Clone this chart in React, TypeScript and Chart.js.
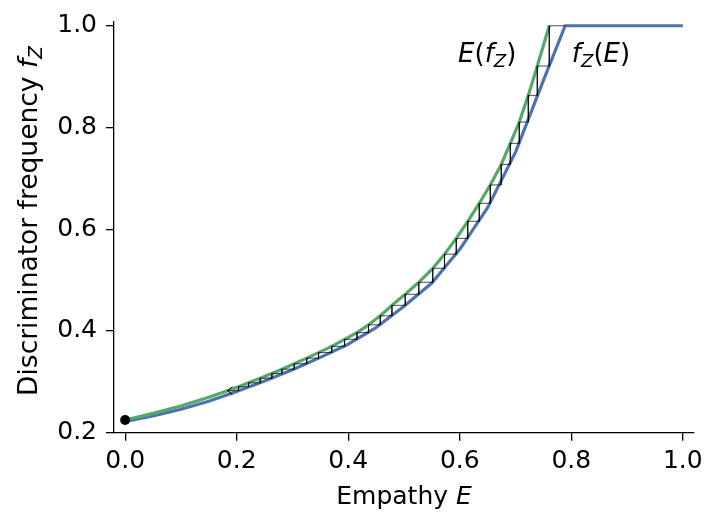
import React, { useEffect, useRef } from 'react';
import { Chart, registerables } from 'chart.js';

Chart.register(...registerables);

// ---- data ----
const xTicks = [0, 0.2, 0.4, 0.6, 0.8, 1.0];
const yTicks = [0.2, 0.4, 0.6, 0.8, 1.0];

// f_Z(E) (blue)
const blueE = [0, 0.05, 0.1, 0.15, 0.2, 0.25, 0.3, 0.35, 0.4, 0.45, 0.5, 0.55, 0.6, 0.65, 0.7, 0.75, 0.789, 1.0];
const blueF = [0.222, 0.233, 0.246, 0.262, 0.281, 0.3015, 0.3237, 0.3481, 0.3739, 0.4067, 0.4485, 0.4942, 0.5605, 0.6425, 0.7516, 0.8927, 1.0, 1.0];

// E(f_Z) (green)
const greenE = [0, 0.05, 0.1, 0.15, 0.1835, 0.2033, 0.2212, 0.2422, 0.2631, 0.2811, 0.3031, 0.3256, 0.3468, 0.3704, 0.3934, 0.4156, 0.4364, 0.4574, 0.4784, 0.5022, 0.5265, 0.5516, 0.5727, 0.5937, 0.6143, 0.635, 0.6547, 0.6744, 0.6906, 0.7067, 0.7229, 0.739, 0.7605];
const greenF = [0.225, 0.238, 0.2525, 0.2698, 0.2826, 0.2905, 0.2981, 0.3071, 0.3165, 0.3249, 0.3354, 0.3466, 0.3575, 0.3698, 0.3836, 0.3967, 0.4121, 0.4298, 0.4504, 0.4721, 0.4957, 0.5232, 0.551, 0.582, 0.6156, 0.651, 0.687, 0.7275, 0.7688, 0.8107, 0.8632, 0.9208, 1.0];

// cobweb staircase (from the top down)
const stairStartE = 0.789;
const stairE = [0.7605, 0.739, 0.7229, 0.7067, 0.6906, 0.6744, 0.6547, 0.635, 0.6143, 0.5937, 0.5727, 0.5516, 0.5265, 0.5022, 0.4784, 0.4574, 0.4364, 0.4156, 0.3934, 0.3704, 0.3468, 0.3256, 0.3031, 0.2811, 0.2631, 0.2422, 0.2212, 0.2033, 0.1835];
const stairF = [1.0, 0.9208, 0.8632, 0.8107, 0.7688, 0.7275, 0.687, 0.651, 0.6156, 0.582, 0.551, 0.5232, 0.4957, 0.4721, 0.4504, 0.4298, 0.4121, 0.3967, 0.3836, 0.3698, 0.3575, 0.3466, 0.3354, 0.3249, 0.3165, 0.3071, 0.2981, 0.2905, 0.2826];

// stable fixed point
const dotE = [0];
const dotF = [0.225];

// texts
type Seg = { t: string; it?: boolean; sub?: boolean };
const xTitle: Seg[] = [{ t: 'Empathy ' }, { t: 'E', it: true }];
const yTitle: Seg[] = [{ t: 'Discriminator frequency ' }, { t: 'f', it: true }, { t: 'Z', it: true, sub: true }];
const labelEf: Seg[] = [{ t: 'E', it: true }, { t: '(' }, { t: 'f', it: true }, { t: 'Z', it: true, sub: true }, { t: ')' }];
const labelFE: Seg[] = [{ t: 'f', it: true }, { t: 'Z', it: true, sub: true }, { t: '(' }, { t: 'E', it: true }, { t: ')' }];
const labelEfAt = { E: 0.597, f: 0.929 };
const labelFEAt = { E: 0.801, f: 0.929 };

const FAMILY = '"DejaVu Sans"';
const TICK_SIZE = 25;
const XTITLE_SIZE = 25;
const YTITLE_SIZE = 26.5;
const ANN_SIZE = 26;
const BLUE = '#4C72B0';
const GREEN = '#55A868';

function drawRich(ctx: CanvasRenderingContext2D, segs: Seg[], x: number, y: number, size: number, align: 'left' | 'center') {
  const fontOf = (s: Seg) => `${s.it ? 'italic ' : ''}${s.sub ? size * 0.7 : size}px ${FAMILY}`;
  let total = 0;
  const widths = segs.map((s) => {
    ctx.font = fontOf(s);
    const w = ctx.measureText(s.t).width;
    total += w;
    return w;
  });
  let cx = align === 'center' ? x - total / 2 : x;
  ctx.textBaseline = 'alphabetic';
  ctx.textAlign = 'left';
  segs.forEach((s, i) => {
    ctx.font = fontOf(s);
    ctx.fillText(s.t, cx, y + (s.sub ? size * 0.2 : 0));
    cx += widths[i];
  });
}

const decorPlugin = {
  id: 'decor',
  afterDraw(chart: any) {
    const { ctx, chartArea, scales } = chart;
    const xs = scales.x;
    const ys = scales.y;
    ctx.save();
    ctx.fillStyle = '#000';
    // x title
    drawRich(ctx, xTitle, (chartArea.left + chartArea.right) / 2, 504, XTITLE_SIZE, 'center');
    // y title
    ctx.save();
    ctx.translate(37, 221);
    ctx.rotate(-Math.PI / 2);
    drawRich(ctx, yTitle, 0, 0, YTITLE_SIZE, 'center');
    ctx.restore();
    // annotations
    drawRich(ctx, labelEf, xs.getPixelForValue(labelEfAt.E), ys.getPixelForValue(labelEfAt.f), ANN_SIZE, 'left');
    drawRich(ctx, labelFE, xs.getPixelForValue(labelFEAt.E), ys.getPixelForValue(labelFEAt.f), ANN_SIZE, 'left');
    // arrow head at end of staircase
    const n = stairE.length - 1;
    const px = xs.getPixelForValue(stairE[n]);
    const py = ys.getPixelForValue(stairF[n]);
    ctx.strokeStyle = '#000';
    ctx.lineWidth = 1;
    ctx.beginPath();
    ctx.moveTo(px + 5, py - 4);
    ctx.lineTo(px, py);
    ctx.lineTo(px + 5, py + 4);
    ctx.stroke();
    ctx.restore();
  },
};

export default function App() {
  const ref = useRef<HTMLCanvasElement>(null);

  useEffect(() => {
    if (!ref.current) return;

    const stairPts: { x: number; y: number }[] = [{ x: stairStartE, y: stairF[0] }];
    for (let i = 0; i < stairE.length; i++) {
      if (i > 0) stairPts.push({ x: stairE[i - 1], y: stairF[i] });
      stairPts.push({ x: stairE[i], y: stairF[i] });
    }

    const tickFont = { family: FAMILY, size: TICK_SIZE };

    const chart = new Chart(ref.current, {
      type: 'line',
      data: {
        datasets: [
          {
            label: 'fixed point',
            data: dotE.map((e, i) => ({ x: e, y: dotF[i] })),
            showLine: false,
            pointRadius: 5,
            pointBackgroundColor: '#000',
            pointBorderColor: '#000',
            pointBorderWidth: 0,
          },
          {
            label: 'staircase',
            data: stairPts,
            borderColor: 'rgba(0,0,0,0.78)',
            borderWidth: 0.9,
            pointRadius: 0,
            tension: 0,
          },
          {
            label: 'E(f_Z)',
            data: greenE.map((e, i) => ({ x: e, y: greenF[i] })),
            borderColor: GREEN,
            borderWidth: 3.2,
            pointRadius: 0,
            tension: 0,
            borderJoinStyle: 'round',
          },
          {
            label: 'f_Z(E)',
            data: blueE.map((e, i) => ({ x: e, y: blueF[i] })),
            borderColor: BLUE,
            borderWidth: 3.2,
            pointRadius: 0,
            tension: 0,
            borderJoinStyle: 'round',
          },
        ],
      },
      options: {
        animation: false,
        responsive: false,
        events: [],
        layout: { padding: { left: 0, right: 12, top: 21.7, bottom: 0 } },
        plugins: { legend: { display: false }, tooltip: { enabled: false } },
        scales: {
          x: {
            type: 'linear',
            min: -0.02,
            max: 1.02,
            afterBuildTicks: (s: any) => {
              s.ticks = xTicks.map((v) => ({ value: v }));
            },
            afterFit: (s: any) => {
              s.height = 512 - 432.7;
              s.paddingLeft = 0;
              s.paddingRight = 0;
            },
            ticks: {
              callback: (v: any) => Number(v).toFixed(1),
              font: tickFont,
              color: '#000',
              padding: 6,
              maxRotation: 0,
              autoSkip: false,
            },
            grid: { drawOnChartArea: false, drawTicks: true, tickLength: 8, color: '#000', lineWidth: 1.3 },
            border: { display: true, color: '#000', width: 1.3 },
          },
          y: {
            type: 'linear',
            min: 0.2,
            max: 1.008,
            afterBuildTicks: (s: any) => {
              s.ticks = yTicks.map((v) => ({ value: v }));
            },
            afterFit: (s: any) => {
              s.width = 114;
              s.paddingTop = 0;
              s.paddingBottom = 0;
            },
            ticks: {
              callback: (v: any) => Number(v).toFixed(1),
              font: tickFont,
              color: '#000',
              padding: 9,
              autoSkip: false,
            },
            grid: { drawOnChartArea: false, drawTicks: true, tickLength: 8, color: '#000', lineWidth: 1.3 },
            border: { display: true, color: '#000', width: 1.3 },
          },
        },
      },
      plugins: [decorPlugin],
    } as any);

    return () => chart.destroy();
  }, []);

  return (
    <div style={{ position: 'fixed', left: 0, top: 0, width: 706, height: 512, background: '#fff' }}>
      <canvas ref={ref} width={706} height={512} style={{ display: 'block' }} />
    </div>
  );
}
